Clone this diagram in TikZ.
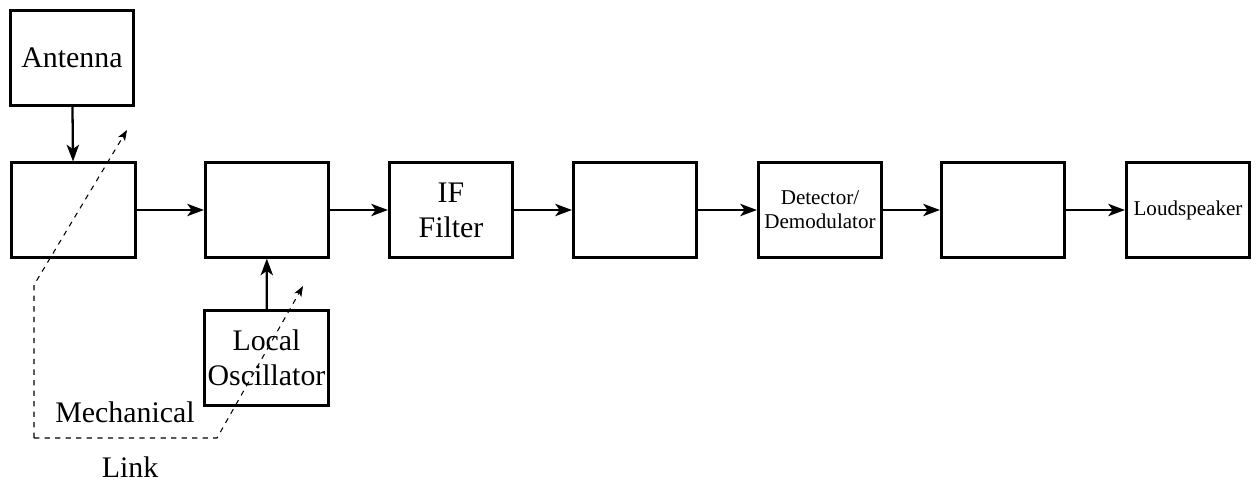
\documentclass[tikz,border=0pt]{standalone}
\usepackage{fontspec}
\setmainfont{Liberation Serif}
\usetikzlibrary{arrows.meta,positioning}

\begin{document}
\begin{tikzpicture}[x=0.02cm, y=-0.02cm,
    block/.style={draw, line width=1.5pt, minimum width=2.47cm, minimum height=1.89cm, align=center, inner sep=1pt, font=\fontsize{17}{20}\selectfont},
    smallblock/.style={block, font=\fontsize{12}{13.5}\selectfont},
    flow/.style={line width=1.3pt, -{Stealth[length=9.5pt, width=7pt, inset=2.5pt]}},
    link/.style={dashed, line width=0.6pt, -{Stealth[length=6pt, width=4.5pt, inset=1.5pt]}},
    lbl/.style={font=\fontsize{17}{20}\selectfont, inner sep=0pt}]
    \useasboundingbox (0,0) rectangle (1256,483);

    % Receiver chain
    \node[block] (ant) at (72,58) {Antenna};
    \node[block] (rf) at (73.5,210) {};
    \node[block] (mix) at (267,210) {};
    \node[block] (lo) at (266.5,358) {Local\\Oscillator};
    \node[block] (iff) at (451,210) {IF\\Filter};
    \node[block] (ifa) at (635,210) {};
    \node[smallblock] (det) at (820,210) {Detector/\\Demodulator};
    \node[block] (af) at (1003,210) {};
    \node[smallblock] (spk) at (1188,210) {Loudspeaker};

    \draw[flow] (ant) -- (rf);
    \draw[flow] (rf) -- (mix);
    \draw[flow] (lo) -- (mix);
    \draw[flow] (mix) -- (iff);
    \draw[flow] (iff) -- (ifa);
    \draw[flow] (ifa) -- (det);
    \draw[flow] (det) -- (af);
    \draw[flow] (af) -- (spk);

    % Mechanical link (ganged tuning)
    \coordinate (tipa) at (127,130);
    \coordinate (tipb) at (303,286);
    \coordinate (knee) at (34,285);
    \coordinate (corner) at (34,438);
    \coordinate (foot) at (217,438);
    \draw[link] (corner) -- (knee) -- (tipa);
    \draw[link] (corner) -- (foot) -- (tipb);
    \node[lbl] (mech) at (125,412) {Mechanical};
    \node[lbl] (lnk) at (130,467) {Link};
\end{tikzpicture}
\end{document}
